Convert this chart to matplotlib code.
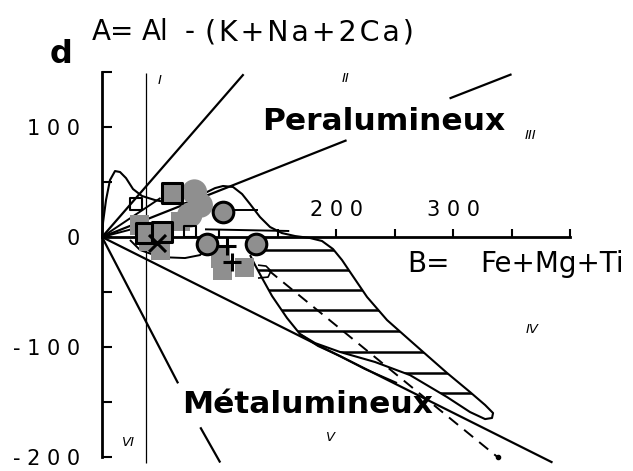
import matplotlib.pyplot as plt
from matplotlib.patches import Polygon

plt.rcParams["font.family"] = ["DejaVu Sans"]

# ---- axis ticks ----
y_ticks = [-200, -150, -100, -50, 0, 50, 100, 150]
y_labels = ["- 2 0 0", "", "- 1 0 0", "", "0", "", "1 0 0", ""]
x_ticks = [50, 100, 150, 200, 250, 300, 350, 400]
x_labels = ["", "", "", "2 0 0", "", "3 0 0", "", ""]

# ---- field boundaries (B, A) ----
line_I_II = [(0, 0), (121, 148)]
line_II_III = [[(0, 0), (209, 88)], [(297, 126), (350, 148)]]
line_IV_V = [(0, 0), (385, -205)]
line_V_VI = [[(0, 0), (65, -133)], [(84, -173), (101, -205)]]
line_B38 = [(38, -205), (38, 149)]
fan_lines = [[(0, 0), (50, 35.5)], [(0, 0), (45, 12.6)]]

# ---- envelope of the reference trend ----
envelope = [
    (0, 0), (0.9, 13.6), (3.4, 33.6), (6.8, 51.8), (11.1, 60), (15.4, 59.1),
    (20.5, 53.6), (26.5, 43.6), (34.2, 37.3), (45.3, 33.6), (58.1, 30.9),
    (68.4, 30), (79.5, 33.6), (89.7, 40.9), (96.6, 44.5), (103.4, 46.4),
    (112, 45.5), (119.7, 39.1), (126.5, 30), (135, 18.2), (143.6, 9.1),
    (153.8, 3.6), (165, 0.9), (177.8, -0.9), (188, -3.6), (197.4, -10.9),
    (205.1, -20.9), (212, -31.8), (226.5, -54.5), (243.6, -75.5),
    (265.8, -96.4), (294.9, -123.6), (314.5, -140.9), (327.4, -152.7),
    (334.2, -160), (333.3, -164.5), (327.4, -165.5), (314.5, -159.1),
    (294.9, -145.5), (263.2, -125.5), (233.3, -113.6), (203.4, -104.5),
    (182.1, -96.4), (169.2, -88.2), (158.1, -73.6), (145.3, -53.6),
    (136.8, -37.3), (130.8, -25.5), (126.5, -16.4),
]
# hatched part of the envelope
hatched = [
    (170, -2.7), (188, -3.6), (197.4, -10.9), (205.1, -20.9), (212, -31.8),
    (226.5, -54.5), (243.6, -75.5), (265.8, -96.4), (294.9, -123.6),
    (314.5, -140.9), (327.4, -152.7), (334.2, -160), (333.3, -164.5),
    (327.4, -165.5), (314.5, -159.1), (294.9, -145.5), (263.2, -125.5),
    (233.3, -113.6), (203.4, -104.5), (182.1, -96.4), (169.2, -88.2),
    (158.1, -73.6), (145.3, -53.6), (136.8, -37.3), (130.8, -25.5),
    (126.5, -7),
]
hatch_levels = [-11.8, -30, -48.2, -66.4, -85.5, -104.5, -123.6, -141.8]
sliver = [(169.2, -88.2), (184.6, -99.1), (203.4, -108.2), (224.8, -120), (252.1, -132.7)]
trend_dashed = [(142, -30), (338, -200)]
loop = [(23.9, -2.7), (32.5, -11.8), (49.6, -18.2), (70.9, -19.1),
        (83.8, -16.4), (88.9, -10), (86.3, -4.5)]
inner_lines = [[(88, 7), (160, 5.5)], [(112, 24.5), (133, 24.5)]]
small_end = [(133.3, -25.5), (140.2, -26.4), (144.4, -30.9), (141.9, -36.4), (133.3, -37.3)]

# ---- samples ----
sq_edge_B = [60, 38, 51]
sq_edge_A = [40, 4, 5]
sq_B = [32, 50, 101, 122, 103, 67, 40]
sq_A = [11, -12, -19, -28, -30, 14, -4]
circ_B = [79, 75, 84]
circ_A = [41, 20, 29]
circ_edge_B = [103, 90, 132]
circ_edge_A = [23, -6, -6]
plus_B = [107, 111]
plus_A = [-8, -23]
cross_B = [47]
cross_A = [-5]
open_B = [75, 29]
open_A = [5, 30]

fig = plt.figure(figsize=(6.33, 4.71), dpi=100)
ax = fig.add_axes([0, 0, 1, 1])
ax.set_xlim(-87.2, 453.8)
ax.set_ylim(-212.7, 215.5)

for s in ("right", "bottom"):
    ax.spines[s].set_visible(False)
ax.spines["left"].set_position(("data", 0))
ax.spines["left"].set_bounds(-200, 150)
ax.spines["top"].set_position(("data", 0))
ax.spines["top"].set_bounds(0, 400)
for s in ("left", "top"):
    ax.spines[s].set_linewidth(2)

ax.xaxis.tick_top()
ax.set_xticks(x_ticks)
ax.set_xticklabels(x_labels, fontsize=15)
ax.tick_params(axis="x", direction="out", length=6, width=1.5, pad=6)
ax.set_yticks(y_ticks)
ax.set_yticklabels(y_labels, fontsize=15)
ax.tick_params(axis="y", direction="in", length=7, width=1.5, pad=16)


def draw(pts, **kw):
    xs, ys = zip(*pts)
    ax.plot(xs, ys, color="black", solid_capstyle="butt", **kw)


draw(line_I_II, lw=1.6)
for seg in line_II_III:
    draw(seg, lw=1.6)
draw(line_IV_V, lw=1.6)
for seg in line_V_VI:
    draw(seg, lw=1.6)
draw(line_B38, lw=0.9)
for seg in fan_lines:
    draw(seg, lw=1.4)

draw(envelope, lw=1.5)
hpoly = Polygon(hatched, closed=True, facecolor="none", edgecolor="none")
ax.add_patch(hpoly)
for lv in hatch_levels:
    hl = ax.hlines(lv, 120, 340, colors="black", lw=1.8)
    hl.set_clip_path(hpoly)
draw(sliver, lw=1.4)
draw(trend_dashed, lw=1.4, ls=(0, (6, 4)))
ax.plot(*trend_dashed[-1], "o", color="black", ms=3)
draw(loop, lw=1.4)
draw(small_end, lw=1.2)
for seg in inner_lines:
    draw(seg, lw=1.4)

grey = "#8f8f8f"
ax.scatter(sq_B, sq_A, marker="s", s=190, c=grey, edgecolors="none", zorder=4)
ax.scatter(circ_B, circ_A, marker="o", s=330, c=grey, edgecolors="none", zorder=4)
ax.scatter(sq_edge_B, sq_edge_A, marker="s", s=190, c=grey, edgecolors="black", linewidths=2.2, zorder=5)
ax.scatter(circ_edge_B, circ_edge_A, marker="o", s=220, c=grey, edgecolors="black", linewidths=2.2, zorder=5)
ax.scatter(open_B, open_A, marker="s", s=70, facecolors="none", edgecolors="black", linewidths=1.5, zorder=6)
ax.scatter(plus_B, plus_A, marker="+", s=180, c="black", linewidths=2.2, zorder=6)
ax.scatter(cross_B, cross_A, marker="x", s=150, c="black", linewidths=2.2, zorder=6)

# ---- labels ----
HS = "\u200a"  # hair space, slightly opens up the formula
ax.text(-44.4, 158, "d", fontsize=23, fontweight="bold")
ax.text(-8.5, 179, "A=", fontsize=20)
ax.text(34.2, 179, "Al", fontsize=20)
ax.text(70.9, 179, "-", fontsize=20)
ax.text(88, 179, HS.join("(K+Na+2Ca)"), fontsize=20.5)
ax.text(136.8, 97.3, "Peralumineux", fontsize=22.5, fontweight="bold")
ax.text(68.4, -160, "Métalumineux", fontsize=22.5, fontweight="bold")
ax.text(260.7, -31.8, "B=", fontsize=20)
ax.text(323, -31.8, "Fe+Mg+Ti", fontsize=20)

romans = ["I", "II", "III", "IV", "V", "VI"]
roman_B = [49.6, 207.7, 365.8, 367.5, 194.9, 22.2]
roman_A = [142.7, 144.5, 92.7, -84.5, -181.8, -186.4]
for r, b, a in zip(romans, roman_B, roman_A):
    ax.text(b, a, r, fontsize=9.5, style="italic", ha="center", va="center")

fig.savefig("out.png", dpi=100)
